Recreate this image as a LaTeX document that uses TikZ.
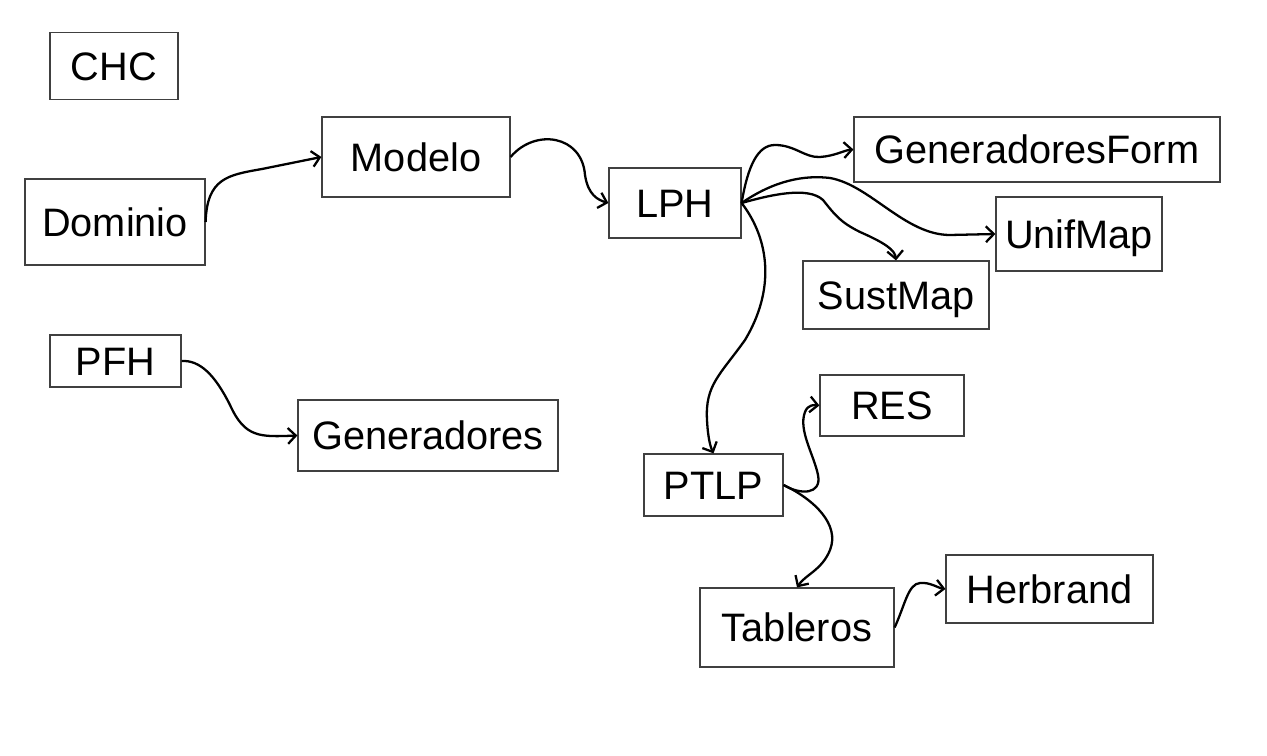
\documentclass[tikz,border=0pt]{standalone}
\usepackage{fontspec}
\setmainfont{Liberation Sans}
\usepackage{tikz}
\usetikzlibrary{arrows,arrows.meta,shapes}
\tikzstyle{box}=[draw=black!75,line width=0.7pt,rectangle,inner sep=0pt,font=\fontsize{22.6}{27}\selectfont,text height=16pt,text depth=0pt]
\tikzstyle{edge} = [draw,line width=1.3pt,->,>={Straight Barb[length=4.5pt,width=9pt]}]

\begin{document}
\begin{tikzpicture}[x=0.02cm,y=-0.02cm]
        \useasboundingbox (0,0) rectangle (1267,756);
        \node[box,minimum width=2.56cm,minimum height=1.34cm] (chc) at (114,66) {CHC};
        \node[box,minimum width=3.6cm,minimum height=1.72cm] (dominio) at (115,222) {Dominio};
        \node[box,minimum width=3.76cm,minimum height=1.6cm] (modelo) at (416,157) {Modelo};
        \node[box,minimum width=2.64cm,minimum height=1.4cm] (lph) at (675,203) {LPH};
        \node[box,minimum width=7.32cm,minimum height=1.3cm] (genform) at (1037,149.5) {GeneradoresForm};
        \node[box,minimum width=3.32cm,minimum height=1.48cm] (unifmap) at (1079,234) {UnifMap};
        \node[box,minimum width=3.72cm,minimum height=1.36cm] (sustmap) at (896,295) {SustMap};
        \node[box,minimum width=2.62cm,minimum height=1.04cm] (pfh) at (115.5,361) {PFH};
        \node[box,minimum width=5.2cm,minimum height=1.42cm] (gen) at (428,435.5) {Generadores};
        \node[box,minimum width=2.88cm,minimum height=1.22cm] (res) at (892,405.5) {RES};
        \node[box,minimum width=2.78cm,minimum height=1.24cm] (ptlp) at (713.5,485) {PTLP};
        \node[box,minimum width=3.88cm,minimum height=1.58cm] (tab) at (797,627.5) {Tableros};
        \node[box,minimum width=4.14cm,minimum height=1.36cm] (herb) at (1049.5,589) {Herbrand};
        \draw[edge] (dominio.east) .. controls (207,178) and (228,175) .. (262,169) -- (modelo.west);
        \draw[edge] (modelo.east) .. controls (535,128) and (582,135) .. (585,175) .. controls (588,195) and (598,200) .. (lph.west);
        \draw[edge] (lph.east) .. controls (748,165) and (758,145) .. (775,145) .. controls (795,145) and (805,158) .. (820,157) .. controls (835,156) and (845,150) .. (genform.west);
        \draw[edge] (lph.east) .. controls (775,180) and (805,175) .. (830,178) .. controls (870,185) and (905,235) .. (950,235) -- (unifmap.west);
        \draw[edge] (lph.east) .. controls (770,195) and (808,186) .. (823,200) .. controls (835,215) and (840,222) .. (860,232) .. controls (885,243) and (895,250) .. (sustmap.north);
        \draw[edge] (lph.east) .. controls (770,240) and (775,290) .. (745,340) .. controls (720,375) and (705,385) .. (707,420) .. controls (708,440) and (711,448) .. (ptlp.north);
        \draw[edge] (ptlp.east) .. controls (800,495) and (822,495) .. (818,475) .. controls (814,455) and (798,430) .. (805,412) .. controls (808,404) and (815,405) .. (res.west);
        \draw[edge] (ptlp.east) .. controls (815,500) and (840,525) .. (830,550) .. controls (822,570) and (805,575) .. (tab.north);
        \draw[edge] (tab.east) .. controls (905,605) and (908,584) .. (920,583) .. controls (930,582) and (938,588) .. (herb.west);
        \draw[edge] (pfh.east) .. controls (200,360) and (215,375) .. (230,405) .. controls (245,438) and (260,437) .. (gen.west);
      \end{tikzpicture}
\end{document}
